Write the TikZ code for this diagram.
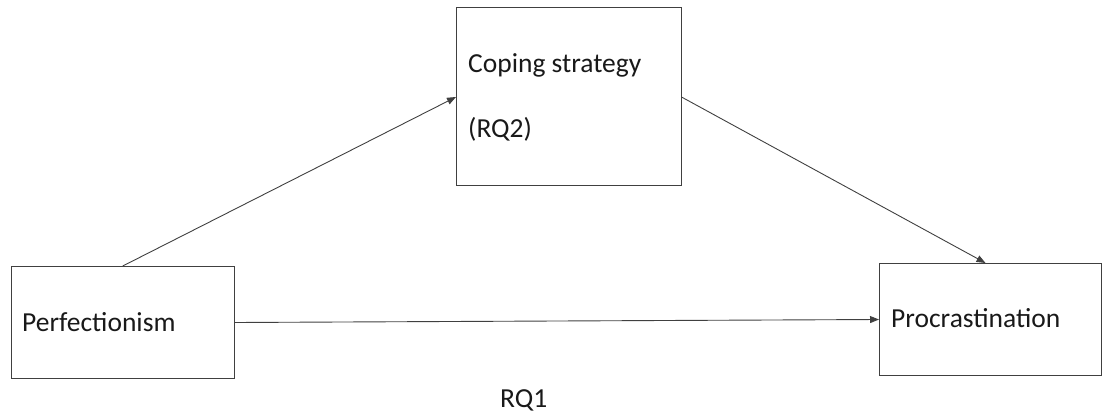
\documentclass[tikz,border=0pt]{standalone}
\usepackage{fontspec}
\setmainfont{Carlito}
\usetikzlibrary{arrows.meta}
\begin{document}
\begin{tikzpicture}[x=1pt,y=-1pt,
  box/.style={draw=black!75,line width=1pt,rectangle,inner sep=0pt,anchor=north west},
  lbl/.style={anchor=base west,inner sep=0pt,font=\fontsize{27.5}{31}\selectfont,text=black!90},
  conn/.style={draw=black!75,line width=0.9pt,-{Triangle[length=9pt,width=7pt]}}]
\useasboundingbox (0,0) rectangle (1102,414);
\node[box,minimum width=223.5pt,minimum height=112pt] (perf) at (10.5,266) {};
\node[box,minimum width=224.5pt,minimum height=178pt] (cope) at (456,7.5) {};
\node[box,minimum width=222pt,minimum height=112pt] (proc) at (879,263) {};
\node[lbl] (tperf) at (22,331) {Perfectionism};
\node[lbl] (tcope) at (468,73) {Coping strategy};
\node[lbl] (trq2) at (468,138) {(RQ2)};
\node[lbl] (tproc) at (891,327) {Procrastination};
\node[lbl] (trq1) at (500,407) {RQ1};
\coordinate (pin) at ([xshift=-5pt]proc.north);
\draw[conn] (perf.north) -- (cope.west);
\draw[conn] (cope.east) -- (pin);
\draw[conn] (perf.east) -- (proc.west);
\end{tikzpicture}
\end{document}
